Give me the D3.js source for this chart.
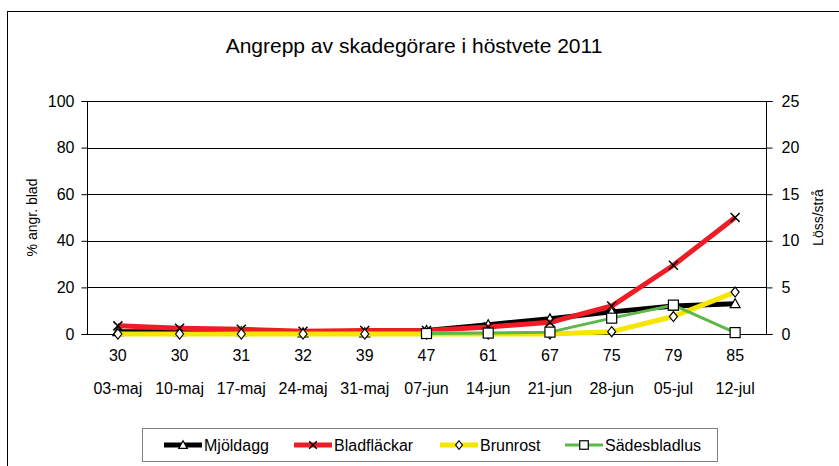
<!DOCTYPE html>
<html><head><meta charset="utf-8">
<script src="https://cdn.jsdelivr.net/npm/d3@7"></script>
<style>body{margin:0;background:#fff;} svg{display:block;font-family:"Liberation Sans",Arial,sans-serif;}</style>
</head><body>
<svg id="c" width="839" height="466"></svg>
<script>
const codes = ["30","30","31","32","39","47","61","67","75","79","85"];
const dates = ["03-maj","10-maj","17-maj","24-maj","31-maj","07-jun","14-jun","21-jun","28-jun","05-jul","12-jul"];
const mjoldagg = [1, 1, 1, 0.5, 0.5, 1.5, 4, 6.5, 9.5, 12, 13];
const bladflackar = [3.5, 2.5, 2, 1.2, 1.5, 1.5, 3, 5, 12, 29.5, 50];
const brunrost = [0, 0, 0, 0, 0, 0, 0, 0, 1, 7.5, 18];
const sadesbladlus = [null, null, null, null, null, 0.05, 0.1, 0.2, 1.7, 3.1, 0.15];
const leftTicks = [0,20,40,60,80,100];
const rightTicks = [0,5,10,15,20,25];

const svg = d3.select("#c");
const L = 87, R = 766, T = 101, B = 334;
const x = d3.scaleBand().domain(d3.range(codes.length)).range([L, R]);
const yL = d3.scaleLinear().domain([0,100]).range([B, T]);
const yR = d3.scaleLinear().domain([0,25]).range([B, T]);
const cx = i => x(i) + x.bandwidth()/2;

// outer frame
svg.append("rect").attr("x",7.5).attr("y",11.5).attr("width",900).attr("height",600)
  .attr("fill","none").attr("stroke","#000").attr("stroke-width",1);

// title
svg.append("text").attr("x",414).attr("y",53).attr("text-anchor","middle")
  .attr("font-size",21).text("Angrepp av skadegörare i höstvete 2011");

// gridlines
svg.append("g").selectAll("line").data(leftTicks.slice(1)).join("line")
  .attr("x1",L).attr("x2",R).attr("y1",d=>Math.round(yL(d))+0.5).attr("y2",d=>Math.round(yL(d))+0.5)
  .attr("stroke","#000").attr("stroke-width",1);

// left axis
const gl = svg.append("g").attr("transform",`translate(${L+0.5},0)`)
  .call(d3.axisLeft(yL).tickValues(leftTicks).tickSize(6).tickPadding(7));
gl.select(".domain").attr("d",`M-6,${B}.5H0V${T}.5H-6`).attr("stroke","#000");
gl.selectAll("text").attr("font-size",16).attr("font-family","Liberation Sans, Arial").attr("fill","#000");

// right axis
const gr = svg.append("g").attr("transform",`translate(${R+0.5},0)`)
  .call(d3.axisRight(yR).tickValues(rightTicks).tickSize(6).tickPadding(9));
gr.select(".domain").attr("d",`M6,${B}.5H0V${T}.5H6`).attr("stroke","#000");
gr.selectAll("text").attr("font-size",16).attr("font-family","Liberation Sans, Arial").attr("fill","#000");

// x axis line
svg.append("line").attr("x1",L).attr("x2",R).attr("y1",B+0.5).attr("y2",B+0.5).attr("stroke","#000");

// x labels
svg.append("g").selectAll("text").data(codes).join("text")
  .attr("x",(d,i)=>cx(i)).attr("y",361).attr("text-anchor","middle").attr("font-size",16).text(d=>d);
svg.append("g").selectAll("text").data(dates).join("text")
  .attr("x",(d,i)=>cx(i)).attr("y",394).attr("text-anchor","middle").attr("font-size",16).text(d=>d);

// axis titles
svg.append("text").attr("transform",`translate(37,${(T+B)/2}) rotate(-90)`).attr("text-anchor","middle")
  .attr("font-size",14).text("% angr. blad");
svg.append("text").attr("transform",`translate(823,${(T+B)/2}) rotate(-90)`).attr("text-anchor","middle")
  .attr("font-size",14).text("Löss/strå");

// marker drawers
function marker(g, type, px, py, s){
  s = s || 1;
  if(type==="tri"){
    g.append("path").attr("d",`M${px},${py-5*s}L${px+5*s},${py+4*s}L${px-5*s},${py+4*s}Z`).attr("fill","#fff").attr("stroke","#000").attr("stroke-width",1.2);
  } else if(type==="x"){
    const r = 4.5*s;
    g.append("path").attr("d",`M${px-r},${py-r}L${px+r},${py+r}M${px+r},${py-r}L${px-r},${py+r}`).attr("stroke","#000").attr("stroke-width",1.5).attr("fill","none");
  } else if(type==="dia"){
    g.append("path").attr("d",`M${px},${py-5*s}L${px+4*s},${py}L${px},${py+5*s}L${px-4*s},${py}Z`).attr("fill","#fff").attr("stroke","#000").attr("stroke-width",1.2);
  } else if(type==="sq"){
    g.append("rect").attr("x",px-5*s).attr("y",py-5*s).attr("width",10*s).attr("height",10*s).attr("fill","#fff").attr("stroke","#000").attr("stroke-width",1.2);
  }
}

const series = [
  {name:"Mjöldagg", vals:mjoldagg, y:yL, color:"#000000", w:5, m:"tri"},
  {name:"Bladfläckar", vals:bladflackar, y:yL, color:"#ee1c24", w:5, m:"x"},
  {name:"Brunrost", vals:brunrost, y:yL, color:"#f5e500", w:5, m:"dia"},
  {name:"Sädesbladlus", vals:sadesbladlus, y:yR, color:"#5cb847", w:3, m:"sq"}
];

series.forEach(s=>{
  const g = svg.append("g");
  const line = d3.line().defined(d=>d!=null).x((d,i)=>cx(i)).y(d=>s.y(d));
  g.append("path").datum(s.vals).attr("d",line).attr("fill","none")
    .attr("stroke",s.color).attr("stroke-width",s.w).attr("stroke-linejoin","round");
  s.vals.forEach((v,i)=>{ if(v!=null) marker(g, s.m, cx(i), s.y(v)); });
});

// legend
svg.append("rect").attr("x",142.5).attr("y",428.5).attr("width",575).attr("height",33)
  .attr("fill","#fff").attr("stroke","#808080").attr("stroke-width",1);
const legX = [164, 294, 440, 565];
series.forEach((s,k)=>{
  const g = svg.append("g");
  const x0 = legX[k], yy = 445;
  g.append("line").attr("x1",x0).attr("x2",x0+38).attr("y1",yy).attr("y2",yy)
    .attr("stroke",s.color).attr("stroke-width",s.w);
  marker(g, s.m, x0+19, yy, 0.85);
  g.append("text").attr("x",x0+40).attr("y",yy+6).attr("font-size",16).text(s.name);
});
</script>
</body></html>
